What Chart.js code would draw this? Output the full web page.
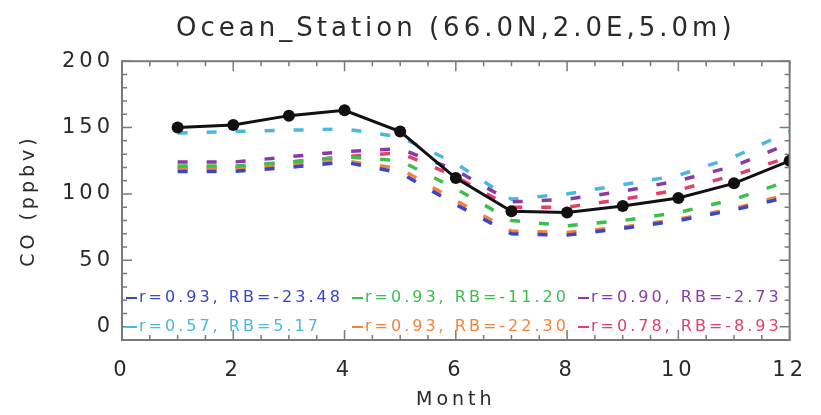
<!DOCTYPE html>
<html>
<head>
<meta charset="utf-8">
<script src="https://cdn.jsdelivr.net/npm/chart.js@4.4.0/dist/chart.umd.min.js"></script>
<style>
  html, body { margin: 0; padding: 0; background: #fff; }
  canvas { display: block; }
</style>
</head>
<body>
<canvas id="station-chart" width="821" height="415"></canvas>
<script>
// monthly CO at the station, observed vs six model runs
const months = [1, 2, 3, 4, 5, 6, 7, 8, 9, 10, 11, 12];
const obsCO    = [150, 152, 159, 163, 147, 112, 87, 86, 91, 97, 108, 125];
const blueCO   = [117, 117, 120, 124, 116, 92, 70, 69, 74, 80, 88, 98];
const greenCO  = [121, 121, 124, 128, 125, 104, 80, 76, 80, 86, 96, 110];
const purpleCO = [124, 124, 128, 132, 134, 118, 94, 96, 102, 110, 121, 138];
const cyanCO   = [146, 147, 148, 149, 143, 123, 96, 100, 107, 114, 128, 147];
const orangeCO = [119, 119, 122, 125, 119, 95, 72, 71, 75, 81, 89, 100];
const redCO    = [120, 120, 124, 128, 131, 113, 90, 90, 96, 103, 114, 128];

const modelSeries = [blueCO, greenCO, purpleCO, cyanCO, orangeCO, redCO];
const seriesColors = ['#3a46c8', '#3cc04a', '#8a3aa8', '#4ab8e0', '#f0843c', '#e0406a'];
const corrR    = ['0.93', '0.93', '0.90', '0.57', '0.93', '0.78'];
const relBias  = ['-23.48', '-11.20', '-2.73', '5.17', '-22.30', '-8.93'];

const xTicks = [0, 2, 4, 6, 8, 10, 12];
const yTicks = [0, 50, 100, 150, 200];

const FONT = '"DejaVu Sans", sans-serif';
const INK = '#2a2a2a';

function toPoints(vals) {
    return months.map((m, i) => ({x: m, y: vals[i]}));
}

// box round the plot with inward major/minor ticks on all sides
const framePlugin = {
    id: 'frame',
    beforeDraw(chart) {
        // wide spacing for all the axis text
        chart.ctx.letterSpacing = '4px';
    },
    afterDatasetsDraw(chart) {
        const {ctx, chartArea: a, scales} = chart;
        const xs = scales.x, ys = scales.y;
        ctx.save();
        ctx.strokeStyle = '#7a7a7a';
        ctx.lineWidth = 2;
        ctx.strokeRect(a.left, a.top, a.right - a.left, a.bottom - a.top);
        ctx.lineWidth = 1.5;
        ctx.beginPath();
        for (let v = 0; v <= 12.001; v += 0.5) {
            const px = xs.getPixelForValue(v);
            const len = (v % 2 === 0) ? 10 : 5;
            ctx.moveTo(px, a.bottom); ctx.lineTo(px, a.bottom - len);
            ctx.moveTo(px, a.top); ctx.lineTo(px, a.top + len);
        }
        for (let v = 0; v <= 200; v += 10) {
            const py = ys.getPixelForValue(v);
            const len = (v % 50 === 0) ? 10 : 5;
            ctx.moveTo(a.left, py); ctx.lineTo(a.left + len, py);
            ctx.moveTo(a.right, py); ctx.lineTo(a.right - len, py);
        }
        ctx.stroke();
        ctx.restore();
    }
};

// r / RB stats written in two rows along the bottom of the plot
const statsLegend = {
    id: 'statsLegend',
    afterDraw(chart) {
        const {ctx, chartArea: a} = chart;
        ctx.save();
        ctx.font = '16px ' + FONT;
        ctx.letterSpacing = '3px';
        ctx.textBaseline = 'middle';
        ctx.textAlign = 'left';
        for (let i = 0; i < modelSeries.length; i++) {
            const row = Math.floor(i / 3), col = i % 3;
            const x = a.left + 4 + col * 226;
            const y = a.bottom - 42 + row * 29;
            ctx.strokeStyle = seriesColors[i];
            ctx.lineWidth = 2;
            ctx.beginPath();
            ctx.moveTo(x, y); ctx.lineTo(x + 11, y);
            ctx.stroke();
            ctx.fillStyle = seriesColors[i];
            ctx.fillText('r=' + corrR[i] + ', RB=' + relBias[i], x + 13, y);
        }
        ctx.restore();
    }
};

const datasets = [{
    label: 'obs',
    data: toPoints(obsCO),
    borderColor: '#111',
    backgroundColor: '#111',
    borderWidth: 3,
    pointRadius: 6,
    pointBackgroundColor: '#111',
    pointBorderWidth: 0
}];
modelSeries.forEach((vals, i) => {
    datasets.push({
        label: 'r=' + corrR[i] + ', RB=' + relBias[i],
        data: toPoints(vals),
        borderColor: seriesColors[i],
        borderWidth: 3.5,
        borderDash: [10, 19],
        pointRadius: 0
    });
});

new Chart(document.getElementById('station-chart'), {
    type: 'line',
    data: {datasets: datasets},
    plugins: [framePlugin, statsLegend],
    options: {
        responsive: false,
        animation: false,
        layout: {padding: {left: 0, right: 16, top: 0, bottom: 0}},
        plugins: {
            legend: {display: false},
            tooltip: {enabled: false},
            title: {
                display: true,
                text: 'Ocean_Station (66.0N,2.0E,5.0m)',
                fullSize: false,
                color: INK,
                font: {family: FONT, size: 26, weight: 'normal'},
                padding: {top: 14, bottom: 16}
            }
        },
        scales: {
            x: {
                type: 'linear',
                min: 0,
                max: 12,
                afterFit(scale) { scale.height = 75; },
                afterBuildTicks(scale) { scale.ticks = xTicks.map(v => ({value: v})); },
                grid: {display: false, drawTicks: false},
                border: {display: false},
                ticks: {color: INK, padding: 18, font: {family: FONT, size: 21}},
                title: {
                    display: true,
                    text: 'Month',
                    color: INK,
                    font: {family: FONT, size: 19},
                    padding: {top: 0, bottom: 4}
                }
            },
            y: {
                min: -10,
                max: 200,
                afterFit(scale) { scale.width = 122; },
                afterBuildTicks(scale) { scale.ticks = yTicks.map(v => ({value: v})); },
                grid: {display: false, drawTicks: false},
                border: {display: false},
                ticks: {color: INK, padding: 8, font: {family: FONT, size: 21}},
                title: {
                    display: true,
                    text: 'CO (ppbv)',
                    color: INK,
                    font: {family: FONT, size: 19},
                    padding: {top: 18, bottom: 0}
                }
            }
        }
    }
});
</script>
</body>
</html>
